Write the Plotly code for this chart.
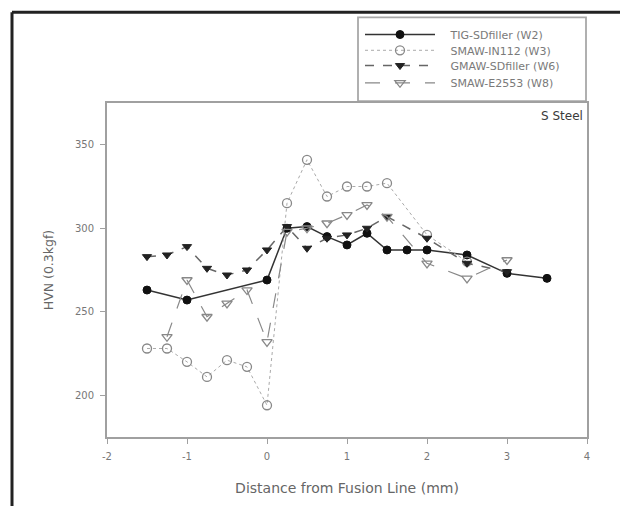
import plotly.graph_objects as go

# ---- data ----
w2_x = [-1.5, -1, 0, 0.25, 0.5, 0.75, 1, 1.25, 1.5, 1.75, 2, 2.5, 3, 3.5]
w2_y = [263, 257, 269, 300, 301, 295, 290, 297, 287, 287, 287, 284, 273, 270]

w3_x = [-1.5, -1.25, -1, -0.75, -0.5, -0.25, 0, 0.25, 0.5, 0.75, 1, 1.25, 1.5, 2, 2.5]
w3_y = [228, 228, 220, 211, 221, 217, 194, 315, 341, 319, 325, 325, 327, 296, 280]

w6_x = [-1.5, -1.25, -1, -0.75, -0.5, -0.25, 0, 0.25, 0.5, 0.75, 1, 1.25, 1.5, 2, 2.5, 3]
w6_y = [283, 284, 289, 276, 272, 275, 287, 301, 288, 294, 296, 300, 307, 294, 279, 274]

w8_x = [-1.25, -1, -0.75, -0.5, -0.25, 0, 0.25, 0.5, 0.75, 1, 1.25, 1.5, 2, 2.5, 3]
w8_y = [235, 269, 247, 255, 263, 232, 298, 300, 303, 308, 314, 307, 279, 270, 281]

names = ["TIG-SDfiller (W2)", "SMAW-IN112 (W3)", "GMAW-SDfiller (W6)", "SMAW-E2553 (W8)"]
x_ticks = [-2, -1, 0, 1, 2, 3, 4]
y_ticks = [200, 250, 300, 350]

FONT = "DejaVu Sans, Liberation Sans, Arial, sans-serif"
PAD = "\u00a0\u00a0\u00a0"

# plot-area geometry (px) used to place paper-referenced items
PL, PR, PT, PB = 107, 587, 100, 439
PW, PH = PR - PL, PB - PT
def px_x(p):
    return (p - PL) / PW
def px_y(p):
    return (PB - p) / PH

fig = go.Figure()
fig.add_trace(go.Scatter(
    x=w2_x, y=w2_y, name=PAD + names[0], mode="lines+markers", legend="legend",
    line=dict(color="#333333", width=1.5, dash="solid"),
    marker=dict(symbol="circle", size=8, color="#111111",
                line=dict(color="#111111", width=1))))
fig.add_trace(go.Scatter(
    x=w3_x, y=w3_y, name=PAD + names[1], mode="lines+markers", legend="legend2",
    line=dict(color="#aaaaaa", width=1, dash="dot"),
    marker=dict(symbol="circle-open", size=9, color="#888888",
                line=dict(color="#888888", width=1.3))))
fig.add_trace(go.Scatter(
    x=w6_x, y=w6_y, name=PAD + names[2], mode="lines+markers", legend="legend3",
    line=dict(color="#666666", width=1.5, dash="dash"),
    marker=dict(symbol="triangle-down", size=8, color="#222222",
                line=dict(color="#222222", width=1))))
fig.add_trace(go.Scatter(
    x=w8_x, y=w8_y, name=PAD + names[3], mode="lines+markers", legend="legend4",
    line=dict(color="#888888", width=1.2, dash="longdash"),
    marker=dict(symbol="triangle-down-open", size=9, color="#888888",
                line=dict(color="#888888", width=1.3))))

axis_common = dict(
    showline=True, linecolor="#a0a0a0", linewidth=1.8, mirror=True,
    ticks="outside", ticklen=5, tickcolor="#a0a0a0", tickwidth=1.2,
    showgrid=False, zeroline=False, ticklabelstandoff=4,
    tickfont=dict(family=FONT, size=10, color="#777777"),
)

fig.update_xaxes(range=[-2, 4], tickvals=x_ticks, ticktext=[str(v) for v in x_ticks],
                 title=dict(text="Distance from Fusion Line (mm)",
                            font=dict(family=FONT, size=14, color="#666666"), standoff=22),
                 **axis_common)
fig.update_yaxes(range=[175, 375], tickvals=y_ticks, ticktext=[str(v) for v in y_ticks],
                 title=dict(text="HVN (0.3kgf)",
                            font=dict(family=FONT, size=12.5, color="#666666"), standoff=19),
                 **axis_common)

# outer dark frame (left and top)
fig.add_shape(type="line", xref="paper", yref="paper", x0=px_x(12), x1=px_x(12),
              y0=px_y(8), y1=px_y(530), line=dict(color="#222222", width=3))
fig.add_shape(type="line", xref="paper", yref="paper", x0=px_x(12), x1=px_x(640),
              y0=px_y(8), y1=px_y(8), line=dict(color="#222222", width=3))

# legend frame
fig.add_shape(type="rect", xref="paper", yref="paper",
              x0=px_x(358), x1=px_x(586), y0=px_y(98), y1=px_y(13),
              line=dict(color="#a8a8a8", width=1.8), fillcolor="white", layer="below")

fig.add_annotation(text="S Steel", xref="paper", yref="paper", x=px_x(585), y=px_y(113),
                   xanchor="right", yanchor="middle", showarrow=False,
                   font=dict(family=FONT, size=12, color="#3a3a3a"))

leg_rows = [30.5, 46.5, 62, 79.5]
leg_common = dict(xanchor="left", yanchor="middle", bgcolor="rgba(0,0,0,0)",
                  borderwidth=0, itemwidth=70,
                  font=dict(family=FONT, size=11, color="#7a7a7a"))

fig.update_layout(
    width=612, height=498,
    margin=dict(l=99, r=33, t=92, b=67),
    paper_bgcolor="white", plot_bgcolor="white",
    showlegend=True,
    legend=dict(x=px_x(360), y=px_y(leg_rows[0]), **leg_common),
    legend2=dict(x=px_x(360), y=px_y(leg_rows[1]), **leg_common),
    legend3=dict(x=px_x(360), y=px_y(leg_rows[2]), **leg_common),
    legend4=dict(x=px_x(360), y=px_y(leg_rows[3]), **leg_common),
)

fig.write_html("out.html")
